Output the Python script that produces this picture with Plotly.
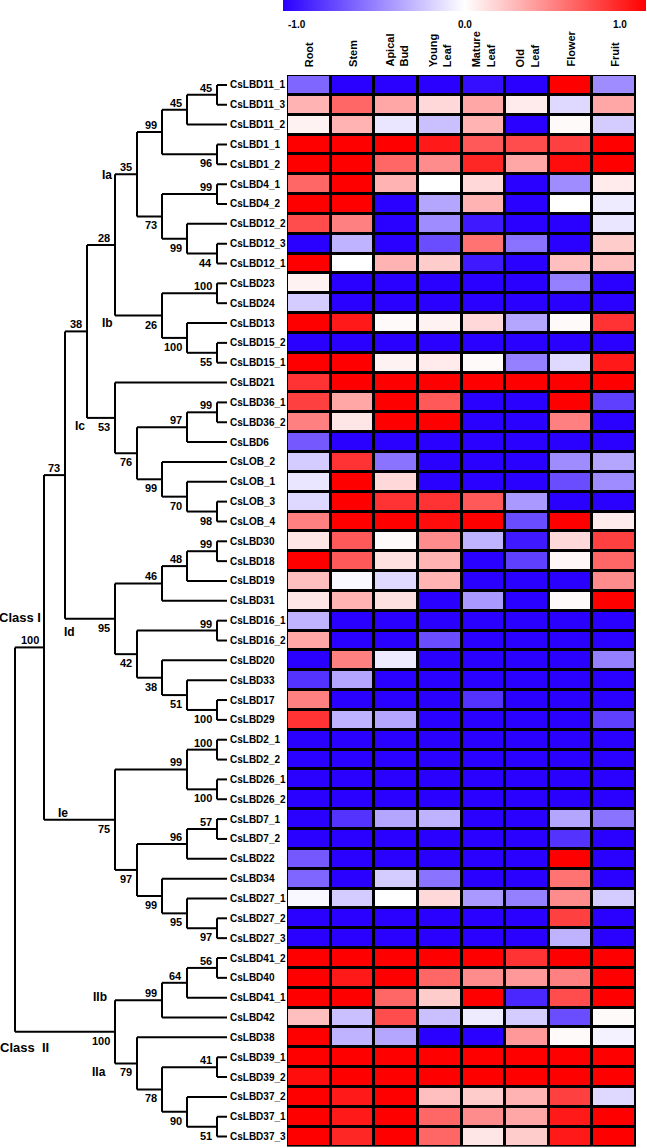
import plotly.graph_objects as go

# ---------------- data ----------------
ROWS = ["CsLBD11_1", "CsLBD11_3", "CsLBD11_2", "CsLBD1_1", "CsLBD1_2", "CsLBD4_1", "CsLBD4_2",
        "CsLBD12_2", "CsLBD12_3", "CsLBD12_1", "CsLBD23", "CsLBD24", "CsLBD13", "CsLBD15_2",
        "CsLBD15_1", "CsLBD21", "CsLBD36_1", "CsLBD36_2", "CsLBD6", "CsLOB_2", "CsLOB_1",
        "CsLOB_3", "CsLOB_4", "CsLBD30", "CsLBD18", "CsLBD19", "CsLBD31", "CsLBD16_1",
        "CsLBD16_2", "CsLBD20", "CsLBD33", "CsLBD17", "CsLBD29", "CsLBD2_1", "CsLBD2_2",
        "CsLBD26_1", "CsLBD26_2", "CsLBD7_1", "CsLBD7_2", "CsLBD22", "CsLBD34", "CsLBD27_1",
        "CsLBD27_2", "CsLBD27_3", "CsLBD41_2", "CsLBD40", "CsLBD41_1", "CsLBD42", "CsLBD38",
        "CsLBD39_1", "CsLBD39_2", "CsLBD37_2", "CsLBD37_1", "CsLBD37_3"]

COLS = ["Root", "Stem", "Apical<br>Bud", "Young<br>Leaf", "Mature<br>Leaf", "Old<br>Leaf", "Flower", "Fruit"]

VALUES = [
    [-0.6, -1, -1, -1, -0.95, -1, 1, -0.45],
    [0.3, 0.6, 0.35, 0.15, 0.35, 0.08, -0.15, 0.35],
    [0.05, 0.3, -0.1, -0.25, 0.3, -1, 0.02, -0.2],
    [1, 1, 1, 0.9, 0.65, 0.7, 0.75, 1],
    [1, 1, 0.6, 0.45, 0.85, 0.35, 0.95, 1],
    [0.6, 1, 0.3, 0.0, 0.15, -1, -0.45, 0.08],
    [1, 1, -1, -0.35, 0.3, -1, 0.0, -0.08],
    [0.7, 0.5, -1, -0.45, -0.9, -1, -1, -0.1],
    [-1, -0.3, -1, -0.7, 0.55, -0.55, -1, 0.2],
    [1, 0.0, 0.3, 0.2, -0.9, -1, 0.25, 0.25],
    [0.05, -1, -1, -1, -1, -1, -0.5, -1],
    [-0.2, -1, -1, -1, -1, -1, -1, -1],
    [1, 0.9, 0.02, 0.05, 0.15, -0.35, 0.02, 0.8],
    [-1, -1, -1, -1, -1, -1, -1, -1],
    [1, 1, 0.05, 0.08, 0.02, -0.5, -0.15, 0.9],
    [0.8, 1, 1, 1, 1, 1, 1, 1],
    [0.75, 0.35, 1, 0.65, -1, -1, 1, -0.75],
    [0.5, 0.1, 1, 1, -1, -1, 0.5, -1],
    [-0.65, -1, -1, -1, -1, -1, -1, -1],
    [-0.2, 0.8, -0.55, -1, -1, -1, -0.45, -0.35],
    [-0.1, 1, 0.15, -1, -1, -1, -0.7, -0.45],
    [-0.15, 1, 0.8, 0.8, 0.65, -0.4, -1, -1],
    [0.5, 1, 1, 0.95, 1, -0.7, 1, 0.08],
    [0.1, 0.65, 0.02, 0.45, -0.3, -0.9, 0.15, 0.75],
    [1, 0.65, 0.12, 0.3, -1, -0.75, 0.03, 0.6],
    [0.25, -0.03, -0.15, 0.3, -1, -1, -1, 0.45],
    [0.1, 0.3, 0.12, -1, -0.4, -1, 0.02, 1],
    [-0.3, -1, -1, -1, -1, -1, -1, -1],
    [0.35, -1, -1, -0.7, -1, -1, -1, -1],
    [-1, 0.5, -0.08, -1, -1, -1, -1, -0.5],
    [-0.8, -0.35, -1, -1, -1, -1, -1, -1],
    [0.5, -1, -1, -1, -0.8, -1, -1, -1],
    [0.8, -0.3, -0.35, -1, -1, -1, -1, -0.75],
    [-1, -1, -1, -1, -1, -1, -1, -1],
    [-1, -1, -1, -1, -1, -1, -1, -1],
    [-1, -1, -1, -1, -1, -1, -1, -1],
    [-1, -1, -1, -1, -1, -1, -1, -1],
    [-1, -0.8, -0.35, -0.3, -1, -1, -0.35, -0.55],
    [-1, -1, -1, -1, -1, -1, -0.8, -1],
    [-0.65, -1, -1, -1, -1, -1, 1, -1],
    [-0.6, -1, -0.2, -0.55, -1, -1, 0.55, -1],
    [-0.03, -0.2, 0.0, 0.15, -0.4, -0.5, 0.45, -0.2],
    [-1, -1, -1, -1, -1, -1, 0.75, -1],
    [-1, -1, -1, -1, -1, -1, -0.3, -1],
    [1, 1, 1, 1, 1, 0.8, 1, 1],
    [1, 0.9, 1, 0.6, 0.45, 0.4, 0.5, 1],
    [1, 1, 0.6, 0.2, 1, -0.85, 0.7, 1],
    [0.25, -0.25, 0.7, -0.25, -0.08, -0.2, -0.7, 0.02],
    [1, -0.3, -0.35, -1, -1, 0.4, 0.02, -0.05],
    [1, 1, 1, 1, 1, 1, 1, 1],
    [0.95, 1, 1, 1, 1, 1, 1, 1],
    [1, 0.9, 1, 0.25, 0.2, 0.3, 0.75, -0.15],
    [1, 0.9, 1, 0.6, 0.45, 0.35, 0.9, 1],
    [1, 0.85, 1, 0.6, 0.1, 0.2, 0.9, 1],
]

COLORBAR_TICKS = ["-1.0", "0.0", "1.0"]


# tree: (bootstrap, depth level, label side 'a'=above/'b'=below, children...)
def N(boot, level, side, *children):
    return {"boot": boot, "level": level, "side": side, "children": list(children)}


ia = N("35", 4, "a",
       N("99", 3, "a",
         N("45", 2, "a", N("45", 1, "a", "CsLBD11_1", "CsLBD11_3"), "CsLBD11_2"),
         N("96", 1, "b", "CsLBD1_1", "CsLBD1_2")),
       N("73", 3, "b",
         N("99", 1, "a", "CsLBD4_1", "CsLBD4_2"),
         N("99", 2, "b", "CsLBD12_2", N("44", 1, "b", "CsLBD12_3", "CsLBD12_1"))))
ib = N("26", 3, "b",
       N("100", 1, "a", "CsLBD23", "CsLBD24"),
       N("100", 2, "b", "CsLBD13", N("55", 1, "b", "CsLBD15_2", "CsLBD15_1")))
n28 = N("28", 5, "a", ia, ib)
ic = N("53", 5, "b", "CsLBD21",
       N("76", 4, "b",
         N("97", 2, "a", N("99", 1, "a", "CsLBD36_1", "CsLBD36_2"), "CsLBD6"),
         N("99", 3, "b", "CsLOB_2",
           N("70", 2, "b", "CsLOB_1", N("98", 1, "b", "CsLOB_3", "CsLOB_4")))))
n38 = N("38", 6, "a", n28, ic)
idc = N("95", 5, "b",
        N("46", 3, "a",
          N("48", 2, "a", N("99", 1, "a", "CsLBD30", "CsLBD18"), "CsLBD19"), "CsLBD31"),
        N("42", 4, "b",
          N("99", 1, "a", "CsLBD16_1", "CsLBD16_2"),
          N("38", 3, "b", "CsLBD20",
            N("51", 2, "b", "CsLBD33", N("100", 1, "b", "CsLBD17", "CsLBD29")))))
n73 = N("73", 7, "a", n38, idc)
ie = N("75", 5, "b",
       N("99", 2, "a",
         N("100", 1, "a", "CsLBD2_1", "CsLBD2_2"),
         N("100", 1, "b", "CsLBD26_1", "CsLBD26_2")),
       N("97", 4, "b",
         N("96", 2, "a", N("57", 1, "a", "CsLBD7_1", "CsLBD7_2"), "CsLBD22"),
         N("99", 3, "b", "CsLBD34",
           N("95", 2, "b", "CsLBD27_1", N("97", 1, "b", "CsLBD27_2", "CsLBD27_3")))))
cls1 = N("100", 8, "a", n73, ie)
cls2 = N("100", 5, "b",
         N("99", 3, "a",
           N("64", 2, "a", N("56", 1, "a", "CsLBD41_2", "CsLBD40"), "CsLBD41_1"), "CsLBD42"),
         N("79", 4, "b", "CsLBD38",
           N("78", 3, "b",
             N("41", 1, "a", "CsLBD39_1", "CsLBD39_2"),
             N("90", 2, "b", "CsLBD37_2", N("51", 1, "b", "CsLBD37_1", "CsLBD37_3")))))
ROOT = N("", 9, "", cls1, cls2)

# group labels: (text, x in dendrogram px units, row position)
GROUPS = [("Ia", 107, 5.55), ("Ib", 107, 13.0), ("Ic", 80, 18.2), ("Id", 69, 28.55),
          ("Ie", 63, 37.7), ("IIb", 100, 46.95), ("IIa", 99, 50.75),
          ("Class I", 20, 27.85), ("Class  II", 24, 49.5)]

# ---------------- layout constants ----------------
W, H = 647, 1148
LEVEL_X = {1: 217, 2: 187, 3: 162, 4: 137, 5: 115, 6: 87, 7: 65, 8: 44, 9: 15}
LEAF_X = 227
DEND_W = 287
HM_X0, HM_X1 = 287, 636
HM_Y0, HM_Y1 = 75, 1146.5
FONT = "Liberation Sans, Arial, sans-serif"

row_of = {name: i + 1 for i, name in enumerate(ROWS)}

seg_x, seg_y = [], []
annotations = []


def walk(node):
    if isinstance(node, str):
        return LEAF_X, float(row_of[node])
    nx = LEVEL_X[node["level"]]
    ch = [walk(c) for c in node["children"]]
    ys = [c[1] for c in ch]
    ny = (min(ys) + max(ys)) / 2
    seg_x.extend([nx, nx, None])
    seg_y.extend([min(ys), max(ys), None])
    for cx, cy in ch:
        seg_x.extend([nx, cx, None])
        seg_y.extend([cy, cy, None])
    if node["boot"]:
        above = node["side"] == "a"
        annotations.append(dict(
            x=nx - 3, y=ny, xref="x", yref="y", text=node["boot"], showarrow=False,
            xanchor="right", yanchor="bottom" if above else "top",
            yshift=-1,
            font=dict(family=FONT, size=11, color="black", weight="bold")))
    return nx, ny


walk(ROOT)

fig = go.Figure()

fig.add_trace(go.Scatter(x=seg_x, y=seg_y, mode="lines", xaxis="x", yaxis="y",
                         line=dict(color="black", width=2), hoverinfo="skip",
                         showlegend=False))

fig.add_trace(go.Heatmap(
    z=VALUES, x=list(range(len(COLS))), y=list(range(1, len(ROWS) + 1)),
    xaxis="x2", yaxis="y", zmin=-1, zmax=1, xgap=3, ygap=3,
    colorscale=[[0, "#2a00ff"], [0.5, "#ffffff"], [1, "#ff0000"]],
    colorbar=dict(orientation="h", x=(283 + 646) / 2 / W, xanchor="center",
                  y=1, yanchor="top", yref="paper", len=363, lenmode="pixels",
                  thickness=11, outlinewidth=0, showticklabels=False, ticks="",
                  xpad=0, ypad=0),
    hoverinfo="skip"))

# leaf labels
for name in ROWS:
    annotations.append(dict(x=LEAF_X + 1, y=row_of[name], xref="x", yref="y", text=name,
                            showarrow=False, xanchor="left", yanchor="middle",
                            font=dict(family=FONT, size=10, color="black", weight="bold")))

# group labels
for text, gx, gy in GROUPS:
    annotations.append(dict(x=gx, y=gy, xref="x", yref="y", text=text, showarrow=False,
                            xanchor="center", yanchor="middle",
                            font=dict(family=FONT, size=13 if text.startswith("Class") else 12,
                                      color="black", weight="bold")))

# column headers
for i, c in enumerate(COLS):
    annotations.append(dict(x=i, y=1 - 69 / H, xref="x2", yref="paper", text=c,
                            showarrow=False, textangle=-90, xanchor="center",
                            yanchor="bottom", align="left",
                            font=dict(family=FONT, size=11, color="black", weight="bold")))

# colorbar tick labels
for t, px in zip(COLORBAR_TICKS, [297, 465, 620]):
    annotations.append(dict(x=px / W, y=1 - 24 / H, xref="paper", yref="paper", text=t,
                            showarrow=False, xanchor="center", yanchor="middle",
                            font=dict(family=FONT, size=10, color="black", weight="bold")))

fig.update_layout(
    width=W, height=H, margin=dict(l=0, r=0, t=0, b=0, autoexpand=False),
    paper_bgcolor="white", plot_bgcolor="white", showlegend=False,
    xaxis=dict(domain=[0, DEND_W / W], range=[0, DEND_W], visible=False, fixedrange=True),
    xaxis2=dict(domain=[HM_X0 / W, HM_X1 / W], range=[-0.5, len(COLS) - 0.5],
                visible=False, anchor="y"),
    yaxis=dict(domain=[1 - HM_Y1 / H, 1 - HM_Y0 / H], range=[len(ROWS) + 0.5, 0.5],
               visible=False),
    annotations=annotations,
    shapes=[dict(type="rect", xref="x2", yref="y", x0=-0.5, x1=len(COLS) - 0.5,
                 y0=0.5, y1=len(ROWS) + 0.5, fillcolor="black",
                 line=dict(color="black", width=2), layer="below")],
)

fig.write_html("out.html", config={"displayModeBar": False},
               post_script="document.body.style.margin='0';document.body.style.overflow='hidden';")
